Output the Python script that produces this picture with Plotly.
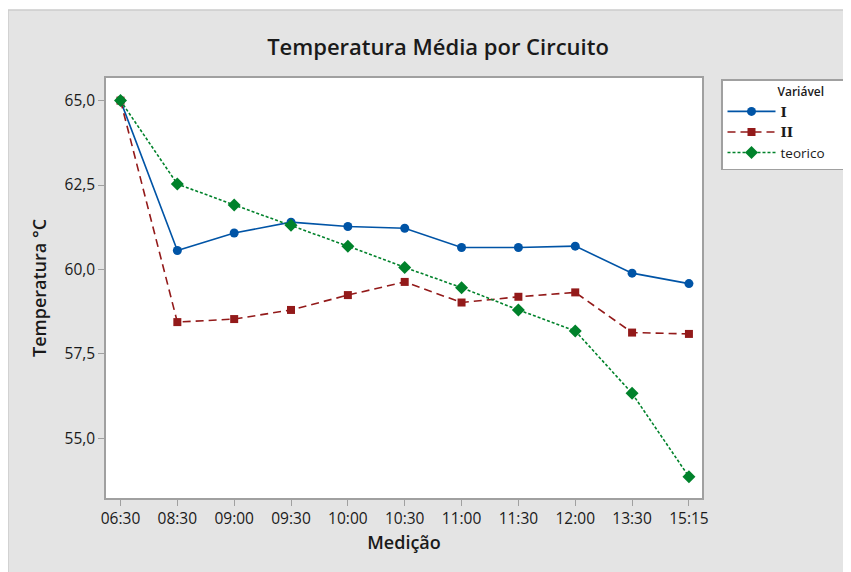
import plotly.graph_objects as go

categorias = ["06:30", "08:30", "09:00", "09:30", "10:00", "10:30", "11:00", "11:30", "12:00", "13:30", "15:15"]
serie_I = [65.0, 60.56, 61.08, 61.40, 61.27, 61.22, 60.65, 60.65, 60.69, 59.89, 59.58]
serie_II = [65.0, 58.44, 58.53, 58.80, 59.24, 59.63, 59.02, 59.19, 59.32, 58.13, 58.09]
serie_teorico = [65.0, 62.53, 61.91, 61.31, 60.69, 60.06, 59.46, 58.80, 58.18, 56.33, 53.86]
y_ticks = [55.0, 57.5, 60.0, 62.5, 65.0]
y_tick_labels = ["55,0", "57,5", "60,0", "62,5", "65,0"]

FONT = "Open Sans"
TXT = "#1a1a1a"
idx = list(range(len(categorias)))

serif = '<span style="font-family:\'DejaVu Serif\';font-weight:bold">{}</span>'

fig = go.Figure()
fig.add_trace(go.Scatter(
    x=idx, y=serie_I, name=serif.format("I"), mode="lines+markers",
    line=dict(color="#0054a6", width=1.6),
    marker=dict(symbol="circle", size=9, color="#0054a6"),
))
fig.add_trace(go.Scatter(
    x=idx, y=serie_II, name=serif.format("II"), mode="lines+markers",
    line=dict(color="#931a1a", width=1.6, dash="8px,5px"),
    marker=dict(symbol="square", size=8, color="#931a1a"),
))
fig.add_trace(go.Scatter(
    x=idx, y=serie_teorico, name="teorico", mode="lines+markers",
    line=dict(color="#00822b", width=1.6, dash="3px,2px"),
    marker=dict(symbol="diamond", size=10, color="#00822b"),
))

# page has an 8px body margin, so the figure is drawn 8px smaller
W, H = 843, 564
L, T = 98, 70
R, B = W - 694, H - 490
pw, ph = W - L - R, H - T - B

def px_x(p):
    return (p - L) / pw

def px_y(p):
    return (H - B - p) / ph

fig.add_shape(type="rect", xref="paper", yref="paper",
              x0=px_x(0), x1=px_x(W + 5), y0=px_y(H + 5), y1=px_y(2),
              fillcolor="#e4e4e4", line=dict(color="#cccccc", width=1.5), layer="below")
fig.add_shape(type="rect", xref="paper", yref="paper",
              x0=0, x1=1, y0=0, y1=1,
              fillcolor="white", line=dict(width=0), layer="below")

fig.update_layout(
    width=W, height=H,
    margin=dict(l=L, r=R, t=T, b=B, autoexpand=False),
    paper_bgcolor="white",
    plot_bgcolor="white",
    font=dict(family=FONT, color=TXT, size=13),
    title=dict(text="Temperatura Média por Circuito", x=430 / W, xanchor="center",
               y=1 - 39 / H, yanchor="middle",
               font=dict(size=22, family=FONT, color=TXT, weight=600)),
    xaxis=dict(
        range=[-0.255, 10.23], tickmode="array", tickvals=idx, ticktext=categorias,
        showgrid=False, zeroline=False, showline=True, linecolor="#a0a0a0", linewidth=1.5,
        mirror=True, ticks="outside", ticklen=6, tickcolor="#a0a0a0",
        tickfont=dict(size=15.5, family=FONT, color=TXT),
        title=dict(text="Medição", font=dict(size=18, family=FONT, color=TXT, weight=600), standoff=8),
    ),
    yaxis=dict(
        range=[53.23, 65.67], tickmode="array", tickvals=y_ticks, ticktext=y_tick_labels,
        showgrid=False, zeroline=False, showline=True, linecolor="#a0a0a0", linewidth=1.5,
        mirror=True, ticks="outside", ticklen=6, tickcolor="#a0a0a0",
        tickfont=dict(size=15.5, family=FONT, color=TXT),
        title=dict(text="Temperatura °C", font=dict(size=18, family=FONT, color=TXT, weight=600), standoff=13),
    ),
    legend=dict(
        x=px_x(713), y=px_y(71), xanchor="left", yanchor="top",
        bgcolor="white", bordercolor="#a0a0a0", borderwidth=1.5,
        font=dict(size=13.5, family=FONT, color=TXT),
        title=dict(text="\u00a0" * 17 + "Variável" + "\u00a0" * 6,
                   font=dict(size=12, family=FONT, color=TXT, weight=600)),
        itemwidth=48, tracegroupgap=0,
    ),
    showlegend=True,
)

fig.write_html("out.html")
